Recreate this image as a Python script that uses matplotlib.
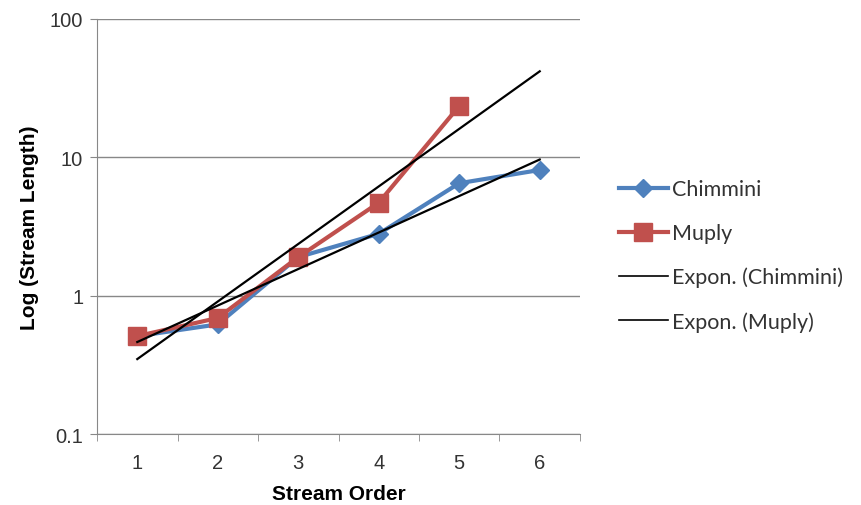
import numpy as np
import matplotlib.pyplot as plt
from matplotlib.ticker import FixedLocator, NullFormatter

plt.rcParams['font.family'] = ['Liberation Sans', 'DejaVu Sans']

orders = [1, 2, 3, 4, 5, 6]
chimmini = [0.51, 0.62, 1.9, 2.8, 6.5, 8.1]
muply = [0.51, 0.69, 1.9, 4.7, 23.5]

fig = plt.figure(figsize=(8.61, 5.06), dpi=100)
ax = fig.add_axes([0.1127, 0.1403, 0.5609, 0.8202])

ax.plot(orders, chimmini, color='#4F81BD', lw=3, marker='D', ms=9, label='Chimmini', zorder=3)
ax.plot(orders[:len(muply)], muply, color='#C0504D', lw=3, marker='s', ms=13, label='Muply', zorder=4)

# exponential trend lines (least squares on log values, like Excel)
xs = np.array([orders[0], orders[-1]])
for vals, name in [(chimmini, 'Chimmini'), (muply, 'Muply')]:
    xv = np.array(orders[:len(vals)])
    b, a = np.polyfit(xv, np.log(vals), 1)
    ax.plot(xs, np.exp(a + b * xs), color='black', lw=1.6, label='Expon. (%s)' % name, zorder=5)

ax.set_yscale('log')
ax.set_ylim(0.1, 100)
ax.set_xlim(0.5, 6.5)
ax.set_yticks([0.1, 1, 10, 100])
ax.set_yticklabels(['0.1', '1', '10', '100'])
ax.yaxis.set_minor_locator(FixedLocator([]))
ax.set_xticks(orders)
ax.xaxis.set_minor_locator(FixedLocator(np.arange(0.5, 7, 1)))
ax.xaxis.set_minor_formatter(NullFormatter())
ax.tick_params(axis='x', which='major', length=0, pad=14, labelsize=14.5, colors='#333333')
ax.tick_params(axis='x', which='minor', length=5, color='#888888')
ax.tick_params(axis='y', which='major', length=5, color='#888888', labelsize=14.5, labelcolor='#333333', pad=5)

ax.grid(axis='y', color='#888888', lw=1)
ax.set_axisbelow(True)
for s in ['top', 'right']:
    ax.spines[s].set_visible(False)
for s in ['left', 'bottom']:
    ax.spines[s].set_color('#888888')

ax.set_xlabel('Stream Order', fontsize=15, fontweight='bold', labelpad=8)
ax.set_ylabel('Log (Stream Length)', fontsize=15, fontweight='bold', labelpad=8)

leg = ax.legend(loc='center left', bbox_to_anchor=(1.04, 0.43), frameon=False,
                handlelength=2.3, labelspacing=1.1, handletextpad=0.2,
                prop={'family': 'Lato', 'size': 15.5})
for t in leg.get_texts():
    t.set_color('#333333')
for h in leg.legend_handles[2:]:
    h.set_linewidth(1.2)

fig.savefig('out.png', dpi=100)
